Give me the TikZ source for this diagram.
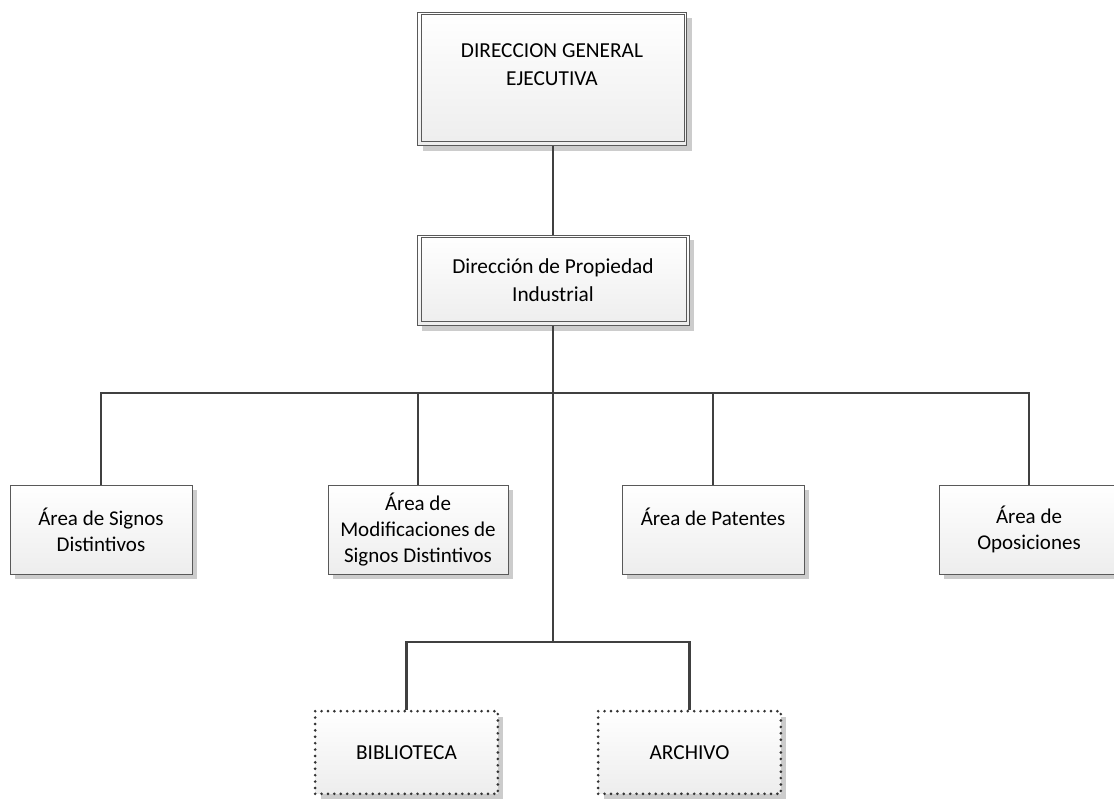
\documentclass[tikz,border=0pt]{standalone}
\usepackage{fontspec}
\setmainfont{Carlito}
\usetikzlibrary{shadows,positioning,calc}

\begin{document}
\begin{tikzpicture}[
  x=0.75pt, y=-0.75pt,
  box/.style={draw=black!65, line width=0.6pt, align=center, inner sep=2pt,
              top color=white, bottom color=black!7,
              drop shadow={shadow xshift=4pt, shadow yshift=-4pt, fill=black!20, opacity=1},
              font=\fontsize{15.75}{19.5}\selectfont},
  headbox/.style={box, font=\fontsize{16}{21}\selectfont},
  inner/.style={draw=black!65, line width=0.6pt},
  leaf/.style={box, minimum width=136.5pt, minimum height=66.75pt},
  dotbox/.style={box, draw=black!80, line width=2.2pt, line cap=round,
              dash pattern=on 0pt off 4.8pt, minimum width=137pt, minimum height=62pt,
              font=\fontsize{16}{19.5}\selectfont},
  link/.style={draw=black!75, line width=1.65pt}
]
\useasboundingbox (0,0) rectangle (1114,806);

% direccion
\node[headbox, minimum width=202pt, minimum height=100pt] (dge) at (552,79)
  {DIRECCION GENERAL\\EJECUTIVA\\\mbox{}};
\node[headbox, minimum width=204pt, minimum height=68pt] (dpi) at (553,280.5)
  {Dirección de Propiedad\\Industrial};
\foreach \n in {dge,dpi}
  \draw[inner] ($(\n.south west)+(3.5pt,3.5pt)$) rectangle ($(\n.north east)+(-2pt,-2pt)$);

% areas
\node[leaf] (signos) at (101,529.5) {Área de Signos\\Distintivos};
\node[leaf, minimum width=135pt] (modif) at (418,529.5) {Área de\\Modificaciones de\\Signos Distintivos};
\node[leaf] (patentes) at (713,529.5) {Área de Patentes\\\mbox{}};
\node[leaf, minimum width=135pt] (opos) at (1029,529.5) {Área de\\Oposiciones};

% apoyo
\node[dotbox] (biblio) at (406.5,752.5) {BIBLIOTECA};
\node[dotbox] (archivo) at (689.5,752.5) {ARCHIVO};

\coordinate (bus) at (553,393);
\coordinate (sub) at (553,642);

\draw[link] (dge.south -| dpi.north) -- (dpi.north);
\draw[link] (dpi.south) -- (sub);
\foreach \n in {signos,modif,patentes,opos}
  \draw[link] (bus) -| (\n.north);
\foreach \n in {biblio,archivo}
  \draw[link] (sub) -| (\n.north);
\end{tikzpicture}
\end{document}
